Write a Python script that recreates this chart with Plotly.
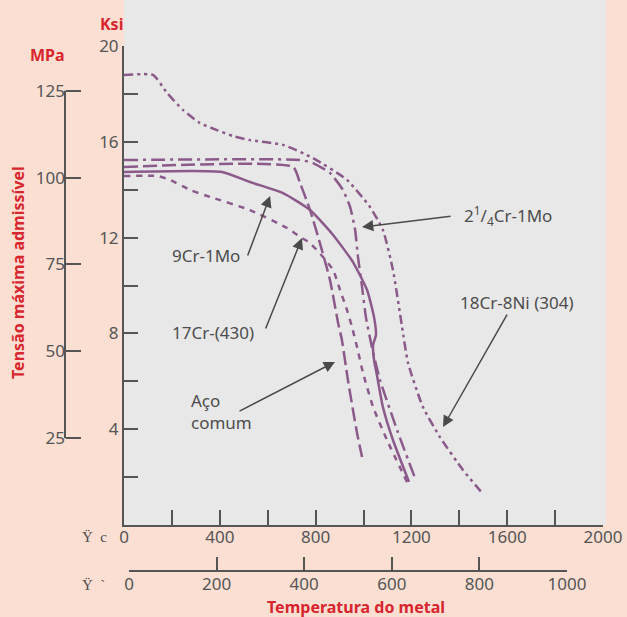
import plotly.graph_objects as go

# ---------------- data (temperature in °F, allowable stress in ksi) ----------------
series_names = ["18Cr-8Ni (304)", "2¼Cr-1Mo", "9Cr-1Mo", "17Cr-(430)", "Aço comum"]

temp_18Cr = [0, 121, 180, 246, 317, 388, 455, 526, 664, 789, 931, 1027, 1081, 1123, 1161, 1186, 1248, 1319, 1415, 1495]
ksi_18Cr = [18.79, 18.79, 18.04, 17.33, 16.78, 16.49, 16.24, 16.07, 15.87, 15.32, 14.41, 13.28, 12.32, 10.65, 8.27, 6.76, 4.93, 3.67, 2.30, 1.34]

temp_2Cr = [0, 735, 789, 860, 914, 944, 965, 977, 994, 1010, 1035, 1069, 1140, 1215]
ksi_2Cr = [15.24, 15.24, 15.11, 14.70, 13.99, 13.28, 12.32, 11.19, 9.94, 8.68, 7.43, 6.05, 3.97, 1.96]

temp_9Cr = [0, 409, 526, 664, 777, 873, 956, 1015, 1044, 1052, 1040, 1044, 1056, 1081, 1123, 1190]
ksi_9Cr = [14.74, 14.74, 14.32, 13.86, 13.15, 12.11, 10.98, 9.81, 8.68, 7.93, 7.52, 6.89, 6.26, 4.93, 3.55, 1.80]

temp_17Cr = [0, 142, 192, 276, 359, 526, 681, 735, 777, 831, 873, 902, 931, 952, 973, 998, 1040, 1098, 1186]
ksi_17Cr = [14.57, 14.57, 14.41, 13.99, 13.70, 13.15, 12.40, 12.03, 11.77, 11.19, 10.65, 9.81, 8.98, 8.27, 7.43, 6.35, 4.93, 3.55, 1.71]

temp_aco = [0, 706, 735, 777, 818, 860, 894, 910, 935, 973, 994]
ksi_aco = [14.95, 14.95, 14.28, 13.15, 11.77, 10.23, 8.43, 7.72, 6.05, 3.84, 2.84]

# axis ticks
f_ticks = [0, 200, 400, 600, 800, 1000, 1200, 1400, 1600, 1800, 2000]
f_labels = ["0", "", "400", "", "800", "", "1200", "", "1600", "", "2000"]
c_ticks = [0, 200, 400, 600, 800, 1000]
c_labels = ["0", "200", "400", "600", "800", "1000"]
ksi_ticks = [0, 2, 4, 6, 8, 10, 12, 14, 16, 18, 20]
ksi_labels = ["", "", "4", "", "8", "", "12", "", "16", "", "20"]
mpa_ticks = [25, 50, 75, 100, 125]
mpa_labels = ["25", "50", "75", "100", "125"]

# labels and arrows (text position / arrow tail -> tip, in °F / ksi)
label_texts = ["9Cr-1Mo", "17Cr-(430)", "Aço<br>comum", "2<sup>1</sup>/<sub>4</sub>Cr-1Mo", "18Cr-8Ni (304)"]
label_F = [192, 192, 271, 1411, 1395]
label_ksi = [11.27, 8.02, 4.72, 12.94, 9.27]
arrow_tail_F = [514, 589, 476, 1370, 1603]
arrow_tail_ksi = [11.19, 8.14, 4.72, 12.90, 8.85]
arrow_tip_F = [610, 743, 881, 994, 1332]
arrow_tip_ksi = [13.74, 11.98, 6.81, 12.44, 4.09]

# ---------------- styling ----------------
W, H = 627, 617
L, R, T, B = 65, 21, 0, 46
PW, PH = W - L - R, H - T - B


def pxx(x):
    return (x - L) / PW


def pxy(y):
    return (H - B - y) / PH


PURPLE = "#8b5a8a"
AXIS = "#555555"
TEXT = "#4d4d4d"
RED = "#d7262e"
PEACH = "#fbdfd3"
GRAY = "#e8e8e8"
FONT = "Noto Sans"
KSI_PER_MPA = 1 / 6.894757

fig = go.Figure()

styles = [
    (temp_18Cr, ksi_18Cr, "9px,4px,3px,4px,3px,4px"),
    (temp_2Cr, ksi_2Cr, "14px,5px,3px,5px"),
    (temp_9Cr, ksi_9Cr, "solid"),
    (temp_17Cr, ksi_17Cr, "6px,6px"),
    (temp_aco, ksi_aco, "14px,5px"),
]
for name, (xs, ys, dash) in zip(series_names, styles):
    fig.add_trace(go.Scatter(
        x=xs, y=ys, name=name, mode="lines",
        line=dict(color=PURPLE, width=2.5, dash=dash, shape="spline", smoothing=0.5),
        hoverinfo="skip", showlegend=False,
    ))

# invisible helpers so the secondary axes are drawn
fig.add_trace(go.Scatter(x=[0], y=[0], xaxis="x2", yaxis="y", mode="markers",
                         marker=dict(opacity=0), hoverinfo="skip", showlegend=False))
fig.add_trace(go.Scatter(x=[0], y=[0], xaxis="x", yaxis="y2", mode="markers",
                         marker=dict(opacity=0), hoverinfo="skip", showlegend=False))

ydom = [pxy(525), pxy(46)]
tickfont = dict(family=FONT, size=17, color=AXIS)

fig.update_layout(
    width=W, height=H,
    margin=dict(l=L, r=R, t=T, b=B, pad=0, autoexpand=False),
    paper_bgcolor=PEACH,
    plot_bgcolor="rgba(0,0,0,0)",
    xaxis=dict(domain=[pxx(124), pxx(603)], range=[0, 2000], anchor="y",
               tickmode="array", tickvals=f_ticks, ticktext=f_labels,
               ticks="inside", ticklen=15, tickwidth=2, tickcolor=AXIS,
               showline=True, linecolor=AXIS, linewidth=2, ticklabelstandoff=-4,
               showgrid=False, zeroline=False, tickfont=tickfont, automargin=False),
    xaxis2=dict(domain=[pxx(129), pxx(567)], range=[0, 1000], anchor="free", position=0,
                tickmode="array", tickvals=c_ticks, ticktext=c_labels,
                ticks="inside", ticklen=13, tickwidth=2, tickcolor=AXIS,
                showline=True, linecolor=AXIS, linewidth=2, ticklabelstandoff=-2,
                showgrid=False, zeroline=False, tickfont=tickfont, automargin=False),
    yaxis=dict(domain=ydom, range=[0, 20], anchor="x",
               tickmode="array", tickvals=ksi_ticks, ticktext=ksi_labels,
               ticks="inside", ticklen=14, tickwidth=2, tickcolor=AXIS,
               showline=True, linecolor=AXIS, linewidth=2,
               showgrid=False, zeroline=False, tickfont=tickfont, automargin=False),
    yaxis2=dict(overlaying="y", anchor="free", position=0, side="left",
                range=[0, 20 / KSI_PER_MPA],
                tickmode="array", tickvals=mpa_ticks, ticktext=mpa_labels,
                ticks="inside", ticklen=15, tickwidth=2, tickcolor=AXIS,
                showline=False, showgrid=False, zeroline=False, tickfont=tickfont,
                automargin=False, autoshift=False),
)

# gray panel and MPa axis line
fig.add_shape(type="rect", xref="paper", yref="paper", x0=pxx(124), x1=1, y0=pxy(525), y1=1,
              fillcolor=GRAY, line=dict(width=0), layer="below")
fig.add_shape(type="line", xref="paper", yref="y2", x0=0, x1=0, y0=mpa_ticks[0], y1=mpa_ticks[-1],
              line=dict(color=AXIS, width=2))

annotations = []
for t, xf, yk in zip(label_texts, label_F, label_ksi):
    annotations.append(dict(text=t, x=xf, y=yk, xref="x", yref="y", xanchor="left", yanchor="middle",
                            align="left", showarrow=False, font=dict(family=FONT, size=17, color=TEXT)))
for tx, ty, hx, hy in zip(arrow_tail_F, arrow_tail_ksi, arrow_tip_F, arrow_tip_ksi):
    annotations.append(dict(text="", x=hx, y=hy, xref="x", yref="y", ax=tx, ay=ty, axref="x", ayref="y",
                            showarrow=True, arrowhead=2, arrowsize=1.5, arrowwidth=1.5,
                            arrowcolor="#4a4a4a", standoff=0, startstandoff=0))

bold = dict(family=FONT, size=16, color=RED, weight="bold")
annotations += [
    dict(text="<b>Ksi</b>", x=pxx(111), y=pxy(24), xref="paper", yref="paper", showarrow=False,
         font=bold, xanchor="center", yanchor="middle"),
    dict(text="<b>MPa</b>", x=pxx(47), y=pxy(55), xref="paper", yref="paper", showarrow=False,
         font=bold, xanchor="center", yanchor="middle"),
    dict(text="<b>Tensão máxima admissível</b>", x=pxx(18), y=pxy(273), xref="paper", yref="paper",
         showarrow=False, font=bold, textangle=-90, xanchor="center", yanchor="middle"),
    dict(text="<b>Temperatura do metal</b>", x=pxx(356), y=pxy(607), xref="paper", yref="paper",
         showarrow=False, font=bold, xanchor="center", yanchor="middle"),
    dict(text="Ÿ\u00a0\u00a0c", x=pxx(80), y=pxy(537), xref="paper", yref="paper", showarrow=False,
         font=dict(family="Liberation Serif", size=15, color=TEXT), xanchor="left", yanchor="middle"),
    dict(text="Ÿ\u00a0\u00a0`", x=pxx(80), y=pxy(585), xref="paper", yref="paper", showarrow=False,
         font=dict(family="Liberation Serif", size=15, color=TEXT), xanchor="left", yanchor="middle"),
]
fig.update_layout(annotations=annotations)

fig.write_html("out.html")
